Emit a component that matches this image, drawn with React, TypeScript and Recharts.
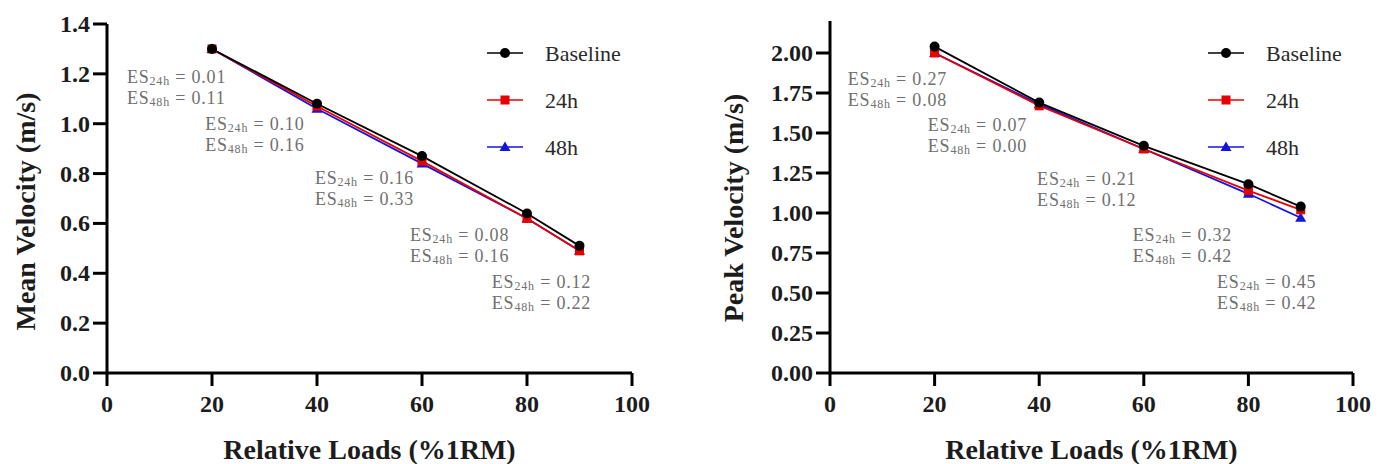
import { LineChart, Line, XAxis, YAxis, Legend, ReferenceDot } from "recharts";

const loads = [20, 40, 60, 80, 90];

const meanBaseline = [1.3, 1.08, 0.87, 0.64, 0.51];
const mean24h = [1.3, 1.07, 0.85, 0.62, 0.49];
const mean48h = [1.3, 1.06, 0.84, 0.62, 0.49];

const peakBaseline = [2.04, 1.69, 1.42, 1.18, 1.04];
const peak24h = [2.0, 1.67, 1.4, 1.14, 1.02];
const peak48h = [2.0, 1.68, 1.4, 1.12, 0.97];

const meanES24 = ["0.01", "0.10", "0.16", "0.08", "0.12"];
const meanES48 = ["0.11", "0.16", "0.33", "0.16", "0.22"];
const peakES24 = ["0.27", "0.07", "0.21", "0.32", "0.45"];
const peakES48 = ["0.08", "0.00", "0.12", "0.42", "0.42"];

// where each ES note sits, in data units (x load, y velocity of first line)
const meanNoteAt = [
  { x: 3.8, y: 1.187 },
  { x: 18.7, y: 0.999 },
  { x: 39.6, y: 0.782 },
  { x: 57.7, y: 0.554 },
  { x: 73.3, y: 0.365 },
];
const peakNoteAt = [
  { x: 3.4, y: 1.84 },
  { x: 18.7, y: 1.55 },
  { x: 39.6, y: 1.21 },
  { x: 57.9, y: 0.86 },
  { x: 74.0, y: 0.57 },
];

const xTicks = [0, 20, 40, 60, 80, 100];
const meanTicks = [0, 0.2, 0.4, 0.6, 0.8, 1.0, 1.2, 1.4];
const peakTicks = [0, 0.25, 0.5, 0.75, 1.0, 1.25, 1.5, 1.75, 2.0];

const SERIF = "Liberation Serif";
const BLACK = "#000000";
const RED = "#e80000";
const BLUE = "#1414e0";
const INK = "#1c1c1c";

const SERIES = [
  { key: "baseline", name: "Baseline", color: BLACK, marker: "circle" },
  { key: "h24", name: "24h", color: RED, marker: "square" },
  { key: "h48", name: "48h", color: BLUE, marker: "triangle" },
];

const build = (a: number[], b: number[], c: number[]) =>
  loads.map((load, i) => ({ load, baseline: a[i], h24: b[i], h48: c[i] }));

const meanData = build(meanBaseline, mean24h, mean48h);
const peakData = build(peakBaseline, peak24h, peak48h);

const Marker = ({ cx, cy, type, color }: any) => {
  if (cx == null || cy == null) return null;
  if (type === "square")
    return <rect x={cx - 4.5} y={cy - 4.5} width={9} height={9} fill={color} />;
  if (type === "triangle")
    return (
      <polygon
        points={`${cx},${cy - 5.5} ${cx + 5.5},${cy + 4} ${cx - 5.5},${cy + 4}`}
        fill={color}
      />
    );
  return <circle cx={cx} cy={cy} r={5} fill={color} />;
};

const LegendBox = () => (
  <svg width={200} height={141}>
    {SERIES.map((s, i) => {
      const y = 23 + i * 47;
      return (
        <g key={s.key}>
          <line x1={0} y1={y} x2={36} y2={y} stroke={s.color} strokeWidth={1.5} />
          <Marker cx={18} cy={y} type={s.marker} color={s.color} />
          <text
            x={58}
            y={y}
            dominantBaseline="central"
            fontFamily={SERIF}
            fontSize={22}
            fill="#2a2a2a"
          >
            {s.name}
          </text>
        </g>
      );
    })}
  </svg>
);

const EsNote = ({ cx, cy, es24, es48 }: any) => {
  if (cx == null || cy == null) return null;
  const common = {
    fill: "#707070",
    fontFamily: SERIF,
    fontSize: 18,
    letterSpacing: 0.8,
  };
  return (
    <g>
      <text x={cx} y={cy} dominantBaseline="central" {...common}>
        ES<tspan fontSize={12} dy={4}>24h</tspan>
        <tspan dy={-4}> = {es24}</tspan>
      </text>
      <text x={cx} y={cy + 21} dominantBaseline="central" {...common}>
        ES<tspan fontSize={12} dy={4}>48h</tspan>
        <tspan dy={-4}> = {es48}</tspan>
      </text>
    </g>
  );
};

const XTick = ({ x, y, payload }: any) => (
  <text
    x={x}
    y={y}
    dy={18}
    textAnchor="middle"
    fontFamily={SERIF}
    fontSize={24}
    fontWeight="bold"
    fill={INK}
  >
    {payload.value}
  </text>
);

const makeYTick =
  (digits: number) =>
  ({ x, y, payload }: any) => (
    <text
      x={x}
      y={y}
      textAnchor="end"
      dominantBaseline="central"
      fontFamily={SERIF}
      fontSize={24}
      fontWeight="bold"
      fill={INK}
    >
      {Number(payload.value).toFixed(digits)}
    </text>
  );

interface PanelProps {
  data: { load: number; baseline: number; h24: number; h48: number }[];
  yTitle: string;
  yTicks: number[];
  yMax: number;
  digits: number;
  es24: string[];
  es48: string[];
  notes: { x: number; y: number }[];
  width: number;
  margin: { top: number; right: number; bottom: number; left: number };
  titleShift: number;
  titleDy: number;
  legendLeft: number;
}

const Panel = ({
  data,
  yTitle,
  yTicks,
  yMax,
  digits,
  es24,
  es48,
  notes,
  width,
  margin,
  titleShift,
  titleDy,
  legendLeft,
}: PanelProps) => (
  <LineChart width={width} height={464} data={data} margin={margin}>
    <XAxis
      type="number"
      dataKey="load"
      domain={[0, 100]}
      ticks={xTicks}
      height={30}
      tickSize={13}
      tickMargin={8}
      axisLine={{ stroke: BLACK, strokeWidth: 3 }}
      tickLine={{ stroke: BLACK, strokeWidth: 3 }}
      tick={<XTick />}
      label={{
        content: ({ viewBox }: any) => (
          <text
            x={viewBox.x + viewBox.width / 2}
            y={viewBox.y + 86}
            textAnchor="middle"
            fontFamily={SERIF}
            fontSize={28}
            fontWeight="bold"
            fill={INK}
          >
            Relative Loads (%1RM)
          </text>
        ),
      }}
    />
    <YAxis
      type="number"
      domain={[0, yMax]}
      ticks={yTicks}
      width={60}
      tickSize={14}
      tickMargin={3}
      axisLine={{ stroke: BLACK, strokeWidth: 3 }}
      tickLine={{ stroke: BLACK, strokeWidth: 3 }}
      tick={makeYTick(digits)}
      label={{
        content: ({ viewBox }: any) => {
          const cx = viewBox.x - titleShift;
          const cy = viewBox.y + viewBox.height / 2 + titleDy;
          return (
            <text
              x={cx}
              y={cy}
              transform={`rotate(-90, ${cx}, ${cy})`}
              textAnchor="middle"
              dominantBaseline="central"
              fontFamily={SERIF}
              fontSize={28}
              fontWeight="bold"
              fill={INK}
            >
              {yTitle}
            </text>
          );
        },
      }}
    />
    <Legend
      layout="vertical"
      align="center"
      verticalAlign="middle"
      content={() => <LegendBox />}
      wrapperStyle={{ left: legendLeft, top: 30, width: 200 }}
    />
    {[...SERIES].reverse().map((s) => (
      <Line
        key={s.key}
        dataKey={s.key}
        name={s.name}
        type="linear"
        stroke={s.color}
        strokeWidth={1.8}
        isAnimationActive={false}
        dot={(p: any) => (
          <Marker key={`${s.key}-${p.index}`} cx={p.cx} cy={p.cy} type={s.marker} color={s.color} />
        )}
        activeDot={false}
      />
    ))}
    {notes.map((n, i) => (
      <ReferenceDot
        key={`note-${i}`}
        x={n.x}
        y={n.y}
        r={0}
        shape={(p: any) => <EsNote cx={p.cx} cy={p.cy} es24={es24[i]} es48={es48[i]} />}
      />
    ))}
  </LineChart>
);

export default function App() {
  return (
    <div
      style={{
        position: "absolute",
        left: 0,
        top: 0,
        width: 1391,
        height: 464,
        background: "#ffffff",
      }}
    >
      <div style={{ position: "absolute", left: 0, top: 0 }}>
        <Panel
          data={meanData}
          yTitle="Mean Velocity (m/s)"
          yTicks={meanTicks}
          yMax={1.4}
          digits={1}
          es24={meanES24}
          es48={meanES48}
          notes={meanNoteAt}
          width={700}
          margin={{ top: 24, right: 68, bottom: 61, left: 47 }}
          titleShift={22}
          titleDy={13}
          legendLeft={487}
        />
      </div>
      <div style={{ position: "absolute", left: 700, top: 0 }}>
        <Panel
          data={peakData}
          yTitle="Peak Velocity (m/s)"
          yTicks={peakTicks}
          yMax={2.2}
          digits={2}
          es24={peakES24}
          es48={peakES48}
          notes={peakNoteAt}
          width={691}
          margin={{ top: 21, right: 38, bottom: 61, left: 70 }}
          titleShift={37}
          titleDy={11}
          legendLeft={508}
        />
      </div>
    </div>
  );
}
